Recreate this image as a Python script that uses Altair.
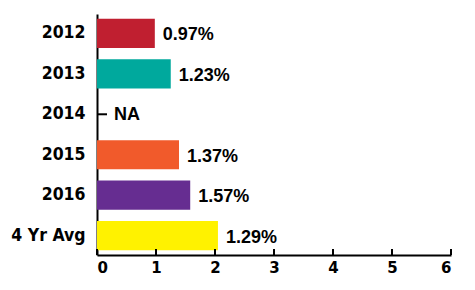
import altair as alt
import pandas as pd

categories = ["2012", "2013", "2014", "2015", "2016", "4 Yr Avg"]
values = [0.98, 1.25, None, 1.39, 1.58, 2.05]
labels = ["0.97%", "1.23%", "NA", "1.37%", "1.57%", "1.29%"]
colors = ["#c01f30", "#00a99d", "#ffffff", "#f15a2b", "#662d91", "#fff200"]
ticks = [0, 1, 2, 3, 4, 5, 6]

df = pd.DataFrame({
    "cat": categories,
    "value": values,
    "label": labels,
    "color": colors,
})
df["pos"] = df["value"].fillna(0)
tick_df = pd.DataFrame({"t": ticks})

W, H = 354, 241

xscale = alt.Scale(domain=[0, 6], nice=False, zero=True)
yscale = alt.Scale(domain=categories, paddingInner=0.28, paddingOuter=0.12)

base = alt.Chart(df)

bars = base.transform_filter("isValid(datum.value)").mark_bar(cornerRadius=0).encode(
    x=alt.X("value:Q", scale=xscale,
            axis=alt.Axis(values=ticks, title=None, grid=False, ticks=False,
                          domainColor="black", domainWidth=2, labelFont="DejaVu Sans",
                          labelFontWeight="bold", labelFontSize=15, labelColor="black",
                          labelPadding=5, format="d")),
    y=alt.Y("cat:N", scale=yscale, sort=categories,
            axis=alt.Axis(title=None, ticks=False, domainColor="black", domainWidth=2,
                          labelFont="DejaVu Sans Condensed",
                          labelFontWeight="bold", labelFontSize=17.5, labelColor="black",
                          labelPadding=12)),
    color=alt.Color("color:N", scale=None),
)

text = base.transform_filter("isValid(datum.value)").mark_text(
    align="left", baseline="middle", dx=8, dy=2, font="Liberation Sans",
    fontWeight="bold", fontSize=18, color="black"
).encode(
    x=alt.X("pos:Q", scale=xscale),
    y=alt.Y("cat:N", scale=yscale, sort=categories),
    text="label:N",
)

na_text = base.transform_filter("!isValid(datum.value)").mark_text(
    align="left", baseline="middle", dx=17, dy=1, font="Liberation Sans",
    fontWeight="bold", fontSize=18, color="black"
).encode(
    x=alt.X("pos:Q", scale=xscale),
    y=alt.Y("cat:N", scale=yscale, sort=categories),
    text="label:N",
)

na_dash = base.transform_filter("!isValid(datum.value)").mark_rule(
    color="black", strokeWidth=2
).encode(
    x=alt.value(0), x2=alt.value(10),
    y=alt.Y("cat:N", scale=yscale, sort=categories),
)

tick_marks = alt.Chart(tick_df).mark_rule(color="black", strokeWidth=2).encode(
    x=alt.X("t:Q", scale=xscale),
    y=alt.value(H - 6), y2=alt.value(H),
)

chart = alt.layer(bars, text, na_text, na_dash, tick_marks).properties(
    width=W, height=H,
    autosize=alt.AutoSizeParams(type="none"),
    padding={"left": 97, "top": 14, "right": 24, "bottom": 35},
    background="white",
).configure_view(stroke=None)

chart.save("out.html", embed_options={"renderer": "svg", "actions": False})
